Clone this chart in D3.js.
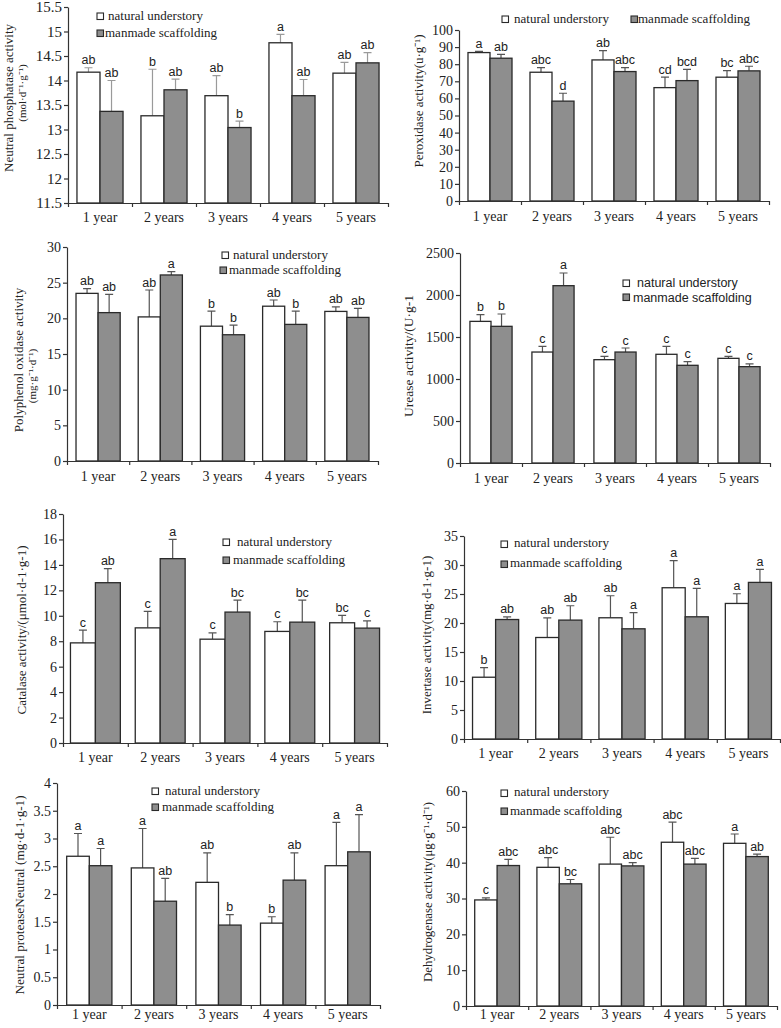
<!DOCTYPE html>
<html>
<head>
<meta charset="utf-8">
<script src="https://cdn.jsdelivr.net/npm/d3@7"></script>
<style>
  body { margin: 0; background: #fff; }
  svg { display: block; }
</style>
</head>
<body>
<div id="chart"></div>
<script>
// categories and series
var years = ["1 year", "2 years", "3 years", "4 years", "5 years"];
var seriesNames = ["natural understory", "manmade scaffolding"];

// neutral phosphatase
var phosphataseNatural = [14.17, 13.28, 13.69, 14.77, 14.15];
var phosphataseNaturalErr = [0.09, 0.95, 0.41, 0.17, 0.22];
var phosphataseManmade = [13.37, 13.81, 13.04, 13.69, 14.36];
var phosphataseManmadeErr = [0.63, 0.22, 0.13, 0.33, 0.21];
var phosphataseNaturalSig = ["ab", "b", "ab", "a", "ab"];
var phosphataseManmadeSig = ["ab", "ab", "b", "ab", "ab"];
var phosphataseTicks = [11.5, 12, 12.5, 13, 13.5, 14, 14.5, 15, 15.5];

// peroxidase
var peroxidaseNatural = [86.8, 75.3, 82.5, 66.3, 72.4];
var peroxidaseNaturalErr = [0.7, 2.7, 5.4, 6.1, 3.9];
var peroxidaseManmade = [83.5, 58.4, 75.7, 70.4, 76.1];
var peroxidaseManmadeErr = [2.3, 4.6, 2.3, 6.6, 2.7];
var peroxidaseNaturalSig = ["a", "abc", "ab", "cd", "bc"];
var peroxidaseManmadeSig = ["ab", "d", "abc", "bcd", "abc"];
var peroxidaseTicks = [0, 10, 20, 30, 40, 50, 60, 70, 80, 90, 100];

// polyphenol oxidase
var polyphenolNatural = [23.5, 20.2, 18.9, 21.7, 20.97];
var polyphenolNaturalErr = [0.66, 3.77, 2.1, 0.87, 0.63];
var polyphenolManmade = [20.8, 26.08, 17.7, 19.15, 20.13];
var polyphenolManmadeErr = [2.56, 0.47, 1.35, 1.85, 1.27];
var polyphenolNaturalSig = ["ab", "ab", "b", "ab", "ab"];
var polyphenolManmadeSig = ["ab", "a", "b", "b", "ab"];
var polyphenolTicks = [0, 5, 10, 15, 20, 25, 30];

// urease
var ureaseNatural = [1686, 1321, 1230, 1294, 1246];
var ureaseNaturalErr = [80, 68, 40, 95, 24];
var ureaseManmade = [1627, 2111, 1321, 1163, 1147];
var ureaseManmadeErr = [147, 151, 48, 43, 32];
var ureaseNaturalSig = ["b", "c", "c", "c", "c"];
var ureaseManmadeSig = ["b", "a", "c", "c", "c"];
var ureaseTicks = [0, 500, 1000, 1500, 2000, 2500];

// catalase
var catalaseNatural = [7.87, 9.05, 8.16, 8.77, 9.45];
var catalaseNaturalErr = [1.0, 1.29, 0.5, 0.76, 0.58];
var catalaseManmade = [12.6, 14.49, 10.29, 9.5, 9.03];
var catalaseManmadeErr = [1.1, 1.52, 0.94, 1.73, 0.57];
var catalaseNaturalSig = ["c", "c", "c", "c", "bc"];
var catalaseManmadeSig = ["ab", "a", "bc", "bc", "c"];
var catalaseTicks = [0, 2, 4, 6, 8, 10, 12, 14, 16, 18];

// invertase
var invertaseNatural = [10.65, 17.5, 20.9, 26.08, 23.37];
var invertaseNaturalErr = [1.65, 3.4, 3.8, 4.66, 1.67];
var invertaseManmade = [20.6, 20.5, 19.0, 21.07, 27.0];
var invertaseManmadeErr = [0.47, 2.47, 2.8, 4.89, 2.25];
var invertaseNaturalSig = ["b", "ab", "ab", "a", "a"];
var invertaseManmadeSig = ["ab", "ab", "a", "a", "a"];
var invertaseTicks = [0, 5, 10, 15, 20, 25, 30, 35];

// neutral protease
var proteaseNatural = [2.68, 2.47, 2.21, 1.475, 2.51];
var proteaseNaturalErr = [0.41, 0.71, 0.53, 0.115, 0.78];
var proteaseManmade = [2.51, 1.87, 1.44, 2.25, 2.76];
var proteaseManmadeErr = [0.31, 0.41, 0.19, 0.49, 0.67];
var proteaseNaturalSig = ["a", "a", "ab", "b", "a"];
var proteaseManmadeSig = ["a", "ab", "b", "ab", "a"];
var proteaseTicks = [0, 0.5, 1, 1.5, 2, 2.5, 3, 3.5, 4];

// dehydrogenase
var dehydrogenaseNatural = [29.6, 38.7, 39.6, 45.7, 45.4];
var dehydrogenaseNaturalErr = [0.6, 2.7, 7.5, 5.6, 2.6];
var dehydrogenaseManmade = [39.2, 34.1, 39.1, 39.6, 41.7];
var dehydrogenaseManmadeErr = [1.7, 1.2, 0.9, 1.6, 0.7];
var dehydrogenaseNaturalSig = ["c", "abc", "abc", "abc", "a"];
var dehydrogenaseManmadeSig = ["abc", "bc", "abc", "abc", "ab"];
var dehydrogenaseTicks = [0, 10, 20, 30, 40, 50, 60];

var svgWidth = 781;
var svgHeight = 1028;

var serif = "'Liberation Serif', 'Times New Roman', serif";
var sans = "'Liberation Sans', Arial, sans-serif";
var barFill = ["#ffffff", "#8e8e8e"];
var ink = "#2a2a2a";

var svg = d3
        .select("#chart")
        .append("svg")
        .attr("width", svgWidth)
        .attr("height", svgHeight);

// panel options (layout lives here, values come from the arrays above)
var panels = [
  {
    values: [phosphataseNatural, phosphataseManmade],
    errs: [phosphataseNaturalErr, phosphataseManmadeErr],
    sig: [phosphataseNaturalSig, phosphataseManmadeSig],
    ticks: phosphataseTicks, tickFont: 15,
    left: 68, right: 388, top: 7, bottom: 203, fill: 0.72, xGap: 19,
    errColor: "#9a9a9a",
    title: [
      {text: "Neutral phosphatase activity", x: 13, y: 98, size: 13},
      {text: "(mol·d⁻¹·g⁻¹)", x: 26, y: 93, size: 11}
    ],
    legendFont: serif,
    legend: [{bx: 97, by: 13, tx: 108, ty: 19.5}, {bx: 97, by: 30, tx: 105, ty: 36.5}]
  },
  {
    values: [peroxidaseNatural, peroxidaseManmade],
    errs: [peroxidaseNaturalErr, peroxidaseManmadeErr],
    sig: [peroxidaseNaturalSig, peroxidaseManmadeSig],
    ticks: peroxidaseTicks, tickFont: 14,
    left: 459, right: 769, top: 30, bottom: 201, fill: 0.71, xGap: 20,
    errColor: "#555",
    title: [{text: "Peroxidase activity(u·g⁻¹)", x: 423, y: 101, size: 13}],
    legendFont: serif,
    legend: [{bx: 502, by: 16, tx: 514, ty: 22.5}, {bx: 631, by: 16, tx: 638, ty: 22.5}]
  },
  {
    values: [polyphenolNatural, polyphenolManmade],
    errs: [polyphenolNaturalErr, polyphenolManmadeErr],
    sig: [polyphenolNaturalSig, polyphenolManmadeSig],
    ticks: polyphenolTicks, tickFont: 14,
    left: 67, right: 378, top: 247, bottom: 461, fill: 0.71, xGap: 20,
    errColor: "#555",
    title: [
      {text: "Polyphenol oxidase activity", x: 23, y: 360, size: 13},
      {text: "(mg·g⁻¹·d⁻¹)", x: 36, y: 376, size: 11}
    ],
    legendFont: serif,
    legend: [{bx: 222, by: 252, tx: 233, ty: 259}, {bx: 220, by: 267, tx: 229, ty: 274}]
  },
  {
    values: [ureaseNatural, ureaseManmade],
    errs: [ureaseNaturalErr, ureaseManmadeErr],
    sig: [ureaseNaturalSig, ureaseManmadeSig],
    ticks: ureaseTicks, tickFont: 14,
    left: 460, right: 770, top: 253, bottom: 463, fill: 0.68, xGap: 20,
    errColor: "#555",
    title: [{text: "Urease activity/(U·g-1", x: 413, y: 356, size: 13.5}],
    legendFont: sans,
    legend: [{bx: 623, by: 280, tx: 637, ty: 287}, {bx: 623, by: 294, tx: 633, ty: 301.5}]
  },
  {
    values: [catalaseNatural, catalaseManmade],
    errs: [catalaseNaturalErr, catalaseManmadeErr],
    sig: [catalaseNaturalSig, catalaseManmadeSig],
    ticks: catalaseTicks, tickFont: 14,
    left: 63, right: 387, top: 514, bottom: 743, fill: 0.77, xGap: 19,
    errColor: "#555",
    title: [{text: "Catalase activity/(μmol·d-1·g-1)", x: 26, y: 630, size: 13}],
    legendFont: serif,
    legend: [{bx: 223, by: 539, tx: 237, ty: 546}, {bx: 223, by: 557, tx: 233, ty: 564}]
  },
  {
    values: [invertaseNatural, invertaseManmade],
    errs: [invertaseNaturalErr, invertaseManmadeErr],
    sig: [invertaseNaturalSig, invertaseManmadeSig],
    ticks: invertaseTicks, tickFont: 14,
    left: 464, right: 780, top: 536, bottom: 739, fill: 0.73, xGap: 19,
    errColor: "#555",
    title: [{text: "Invertase activity(mg·d-1·g-1)", x: 431, y: 635, size: 13}],
    legendFont: serif,
    legend: [{bx: 501, by: 541, tx: 514, ty: 547}, {bx: 501, by: 561, tx: 510, ty: 567}]
  },
  {
    values: [proteaseNatural, proteaseManmade],
    errs: [proteaseNaturalErr, proteaseManmadeErr],
    sig: [proteaseNaturalSig, proteaseManmadeSig],
    ticks: proteaseTicks, tickFont: 14,
    left: 57, right: 380, top: 783, bottom: 1005, fill: 0.70, xGap: 14,
    errColor: "#555",
    title: [{text: "Neutral proteaseNeutral (mg·d-1·g-1)", x: 24, y: 895, size: 13.2}],
    legendFont: serif,
    legend: [{bx: 152, by: 788, tx: 165, ty: 795}, {bx: 152, by: 804, tx: 162, ty: 811}]
  },
  {
    values: [dehydrogenaseNatural, dehydrogenaseManmade],
    errs: [dehydrogenaseNaturalErr, dehydrogenaseManmadeErr],
    sig: [dehydrogenaseNaturalSig, dehydrogenaseManmadeSig],
    ticks: dehydrogenaseTicks, tickFont: 14,
    left: 466, right: 777, top: 791, bottom: 1006, fill: 0.72, xGap: 13,
    errColor: "#555",
    title: [{text: "Dehydrogenase activity(μg·g⁻¹·d⁻¹)", x: 432, y: 892, size: 12.8}],
    legendFont: serif,
    legend: [{bx: 501, by: 790, tx: 514, ty: 796}, {bx: 501, by: 808, tx: 510, ty: 815}]
  }
];

function drawPanel(p) {
  var g = svg.append("g");
  var ticks = p.ticks;

  // scales
  var x0 = d3.scaleBand()
    .domain(years)
    .range([p.left, p.right])
    .paddingInner(1 - p.fill)
    .paddingOuter((1 - p.fill) / 2);

  var x1 = d3.scaleBand()
    .domain([0, 1])
    .range([0, x0.bandwidth()]);

  var y = d3.scaleLinear()
    .domain([ticks[0], ticks[ticks.length - 1]])
    .range([p.bottom, p.top]);

  // bars, error bars and letters, one series at a time
  [0, 1].forEach(function(s) {
    var rows = years.map(function(yr, i) {
      return {yr: yr, v: p.values[s][i], e: p.errs[s][i], sig: p.sig[s][i]};
    });
    var cx = function(d) { return x0(d.yr) + x1(s) + x1.bandwidth() / 2; };

    g.selectAll(".err" + s)
      .data(rows)
      .enter()
      .append("path")
      .attr("d", function(d) {
        var c = cx(d), t = y(d.v + d.e);
        return "M" + c + "," + y(d.v) + "V" + t + "M" + (c - 4) + "," + t + "H" + (c + 4);
      })
      .attr("fill", "none")
      .attr("stroke", p.errColor)
      .attr("stroke-width", 1.2);

    g.selectAll(".bar" + s)
      .data(rows)
      .enter()
      .append("rect")
      .attr("x", d => x0(d.yr) + x1(s))
      .attr("y", d => y(d.v))
      .attr("width", x1.bandwidth())
      .attr("height", d => y(ticks[0]) - y(d.v))
      .attr("fill", barFill[s])
      .attr("stroke", ink)
      .attr("stroke-width", 1.3);

    g.selectAll(".sig" + s)
      .data(rows)
      .enter()
      .append("text")
      .attr("x", cx)
      .attr("y", d => y(d.v + d.e) - 3.5)
      .attr("text-anchor", "middle")
      .style("font-family", sans)
      .style("font-size", "12.5px")
      .style("fill", "#222")
      .text(d => d.sig);
  });

  // y axis
  var yAxis = g.append("g")
    .attr("transform", `translate(${p.left}, 0)`)
    .call(d3.axisLeft(y)
      .tickValues(ticks)
      .tickSize(4)
      .tickSizeOuter(0)
      .tickPadding(2)
      .tickFormat(d3.format("~g")));

  // x axis: ticks at the group boundaries
  var xb = d3.scaleLinear().domain([0, years.length]).range([p.left, p.right]);
  var xAxis = g.append("g")
    .attr("transform", `translate(0, ${p.bottom})`)
    .call(d3.axisBottom(xb)
      .tickValues(d3.range(years.length + 1))
      .tickSize(4)
      .tickSizeOuter(0)
      .tickFormat(""));

  // x labels under each group
  var xLabels = g.append("g")
    .attr("transform", `translate(0, ${p.bottom})`)
    .call(d3.axisBottom(x0).tickSize(0).tickPadding(p.xGap - 10));
  xLabels.select(".domain").remove();

  [yAxis, xAxis].forEach(function(a) {
    a.selectAll("path, line").attr("stroke", "#333").attr("stroke-width", 1.2);
  });
  yAxis.selectAll("text")
    .style("font-family", serif)
    .style("font-size", p.tickFont + "px")
    .style("fill", "#222");
  xLabels.selectAll("text")
    .style("font-family", serif)
    .style("font-size", "14px")
    .style("fill", "#222");

  // y title (rotated)
  p.title.forEach(function(t) {
    g.append("text")
      .attr("transform", `translate(${t.x}, ${t.y}) rotate(-90)`)
      .attr("text-anchor", "middle")
      .style("font-family", serif)
      .style("font-size", t.size + "px")
      .style("fill", "#222")
      .text(t.text);
  });

  // legend
  p.legend.forEach(function(l, s) {
    g.append("rect")
      .attr("x", l.bx)
      .attr("y", l.by)
      .attr("width", 6.5)
      .attr("height", 6.5)
      .attr("fill", barFill[s])
      .attr("stroke", ink)
      .attr("stroke-width", 1.1);
    g.append("text")
      .attr("x", l.tx)
      .attr("y", l.ty)
      .style("font-family", p.legendFont)
      .style("font-size", p.legendFont === sans ? "12.5px" : "13px")
      .style("fill", "#222")
      .text(seriesNames[s]);
  });
}

panels.forEach(drawPanel);
</script>
</body>
</html>
